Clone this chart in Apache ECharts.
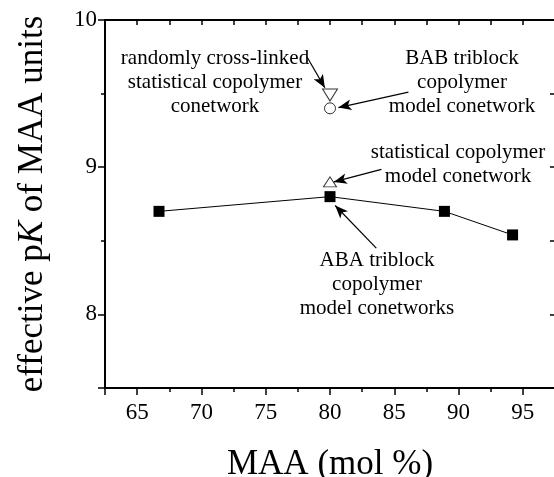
<!DOCTYPE html>
<html>
<head>
<meta charset="utf-8">
<script src="https://cdn.jsdelivr.net/npm/echarts@6/dist/echarts.min.js"></script>
<style>
  html, body { margin: 0; padding: 0; background: #fff; }
  #chart { width: 554px; height: 477px; }
</style>
</head>
<body>
<div id="chart"></div>
<script>
// ABA triblock copolymer model conetworks (filled squares, joined)
var abaMaa = [66.7, 80, 88.9, 94.2]
var abaPk = [8.7, 8.8, 8.7, 8.54]
// single points at 80 mol %
var statMaa = [80]
var statPk = [8.9]
var randomMaa = [80]
var randomPk = [9.49]
var babMaa = [80]
var babPk = [9.4]
// arrows: [from, to] in data units
var arrows = [
  [[78.2, 9.75], [79.6, 9.54]],
  [[86.1, 9.51], [80.65, 9.405]],
  [[84.0, 8.985], [80.3, 8.9]],
  [[83.6, 8.45], [80.4, 8.74]]
]

var FONT = 'Liberation Serif'

function pairs(xs, ys) {
  return xs.map(function (x, i) { return [x, ys[i]] })
}

var chart = echarts.init(document.getElementById('chart'))

var textCommon = {
  fontFamily: FONT,
  fontSize: 21,
  fill: '#000',
  align: 'center',
  verticalAlign: 'top',
  lineHeight: 24
}
function note(x, y, text) {
  return {
    type: 'text',
    style: Object.assign({}, textCommon, { x: x, y: y, text: text }),
    silent: true
  }
}

chart.setOption({
  animation: false,
  backgroundColor: '#fff',
  grid: { left: 105, top: 20, width: 450, height: 368, outerBoundsMode: 'none', containLabel: false },
  xAxis: [
    {
      type: 'value',
      position: 'bottom',
      min: 62.5,
      max: 97.5,
      interval: 2.5,
      axisLine: { onZero: false, lineStyle: { color: '#000', width: 2 } },
      axisTick: { length: 4, lineStyle: { color: '#000', width: 1.5 } },
      axisLabel: {
        color: '#000',
        fontFamily: FONT,
        fontSize: 23,
        margin: 13,
        formatter: function (v) { return v % 5 === 0 ? String(v) : '' }
      },
      splitLine: { show: false },
      name: 'MAA (mol %)',
      nameLocation: 'middle',
      nameGap: 59,
      nameTextStyle: { color: '#000', fontFamily: FONT, fontSize: 35 }
    },
    {
      type: 'value',
      position: 'bottom',
      min: 62.5,
      max: 97.5,
      splitNumber: 7,
      axisLine: { show: false, onZero: false },
      axisTick: { length: 7, lineStyle: { color: '#000', width: 1.5 } },
      axisLabel: { show: false },
      splitLine: { show: false }
    },
    {
      type: 'value',
      position: 'top',
      min: 62.5,
      max: 97.5,
      interval: 2.5,
      axisLine: { onZero: false, lineStyle: { color: '#000', width: 2 } },
      axisTick: { inside: true, length: 5, lineStyle: { color: '#000', width: 1.5 } },
      axisLabel: { show: false },
      splitLine: { show: false }
    }
  ],
  yAxis: [
    {
      type: 'value',
      position: 'left',
      min: 7.5,
      max: 10,
      interval: 0.5,
      axisLine: { onZero: false, lineStyle: { color: '#000', width: 2 } },
      axisTick: { length: 4, lineStyle: { color: '#000', width: 1.5 } },
      axisLabel: {
        color: '#000',
        fontFamily: FONT,
        fontSize: 23,
        margin: 8,
        formatter: function (v) { return v % 1 === 0 ? String(v) : '' }
      },
      splitLine: { show: false },
      name: 'effective p{i|K} of MAA units',
      nameLocation: 'middle',
      nameRotate: 90,
      nameGap: 55,
      nameTextStyle: {
        color: '#000',
        fontFamily: FONT,
        fontSize: 35,
        rich: {
          i: { fontFamily: FONT, fontSize: 35, fontStyle: 'italic', color: '#000' }
        }
      }
    },
    {
      type: 'value',
      position: 'left',
      min: 7.5,
      max: 10,
      splitNumber: 3,
      axisLine: { show: false, onZero: false },
      axisTick: { length: 7, lineStyle: { color: '#000', width: 1.5 } },
      axisLabel: { show: false },
      splitLine: { show: false }
    },
    {
      type: 'value',
      position: 'right',
      min: 7.5,
      max: 10,
      interval: 0.5,
      axisLine: { onZero: false, lineStyle: { color: '#000', width: 2 } },
      axisTick: { inside: true, length: 5, lineStyle: { color: '#000', width: 1.5 } },
      axisLabel: { show: false },
      splitLine: { show: false }
    }
  ],
  series: [
    {
      name: 'ABA triblock',
      type: 'line',
      data: pairs(abaMaa, abaPk),
      symbol: 'rect',
      symbolSize: 11,
      lineStyle: { color: '#000', width: 1 },
      itemStyle: { color: '#000' },
      z: 3,
      markLine: {
        silent: true,
        symbol: ['none', 'arrow'],
        symbolSize: [8, 13],
        label: { show: false },
        lineStyle: { color: '#000', width: 1.2, type: 'solid' },
        data: arrows.map(function (a) {
          return [{ coord: a[0] }, { coord: a[1] }]
        })
      }
    },
    {
      name: 'statistical',
      type: 'scatter',
      data: pairs(statMaa, statPk),
      symbol: 'triangle',
      symbolSize: [13, 10],
      itemStyle: { color: '#fff', borderColor: '#000', borderWidth: 1 }
    },
    {
      name: 'randomly cross-linked',
      type: 'scatter',
      data: pairs(randomMaa, randomPk),
      symbol: 'triangle',
      symbolRotate: 180,
      symbolSize: [15, 12],
      itemStyle: { color: '#fff', borderColor: '#000', borderWidth: 1 }
    },
    {
      name: 'BAB triblock',
      type: 'scatter',
      data: pairs(babMaa, babPk),
      symbol: 'circle',
      symbolSize: 11,
      itemStyle: { color: '#fff', borderColor: '#000', borderWidth: 1 }
    }
  ],
  graphic: [
    note(215, 46, 'randomly cross-linked\nstatistical copolymer\nconetwork'),
    note(462, 46, 'BAB triblock\ncopolymer\nmodel conetwork'),
    note(458, 140, 'statistical copolymer\nmodel conetwork'),
    note(377, 248, 'ABA triblock\ncopolymer\nmodel conetworks')
  ]
})
</script>
</body>
</html>
